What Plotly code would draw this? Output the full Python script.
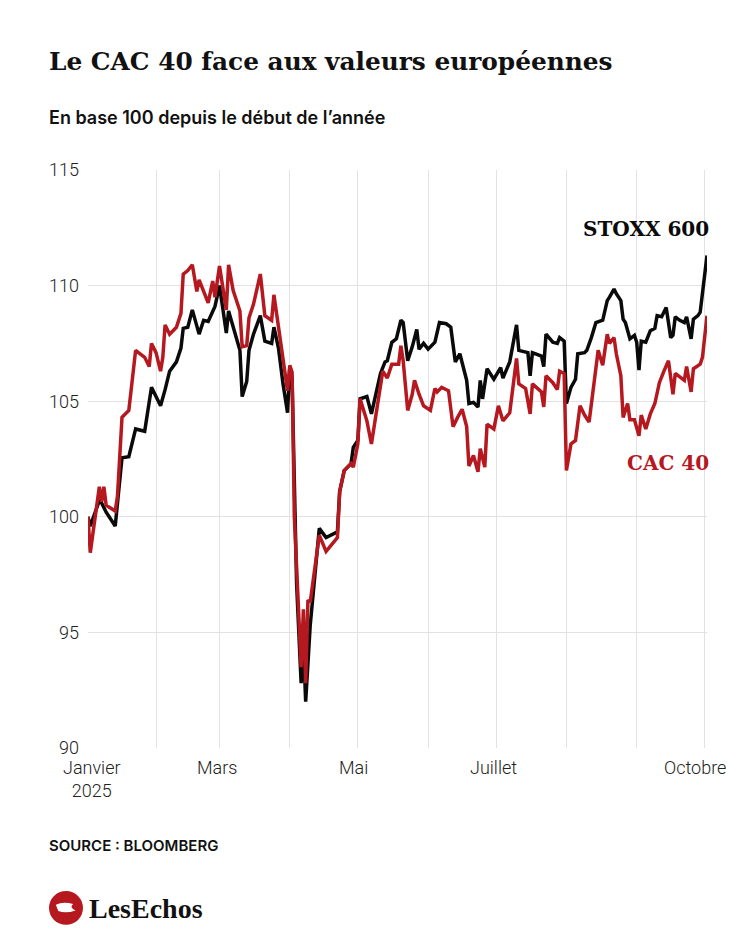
import plotly.graph_objects as go

# STOXX 600, base 100 au 2 janvier 2025
stoxx_dates = [
    "2025-01-02", "2025-01-03", "2025-01-07", "2025-01-08", "2025-01-10", "2025-01-14",
    "2025-01-17", "2025-01-20", "2025-01-23", "2025-01-27", "2025-01-30", "2025-02-03",
    "2025-02-05", "2025-02-07", "2025-02-10", "2025-02-12", "2025-02-13", "2025-02-15",
    "2025-02-17", "2025-02-19", "2025-02-20", "2025-02-22", "2025-02-24", "2025-02-27",
    "2025-03-01", "2025-03-04", "2025-03-05", "2025-03-10", "2025-03-11", "2025-03-13",
    "2025-03-14", "2025-03-16", "2025-03-19", "2025-03-21", "2025-03-24", "2025-03-25",
    "2025-03-27", "2025-03-29", "2025-03-31", "2025-04-01", "2025-04-02", "2025-04-04",
    "2025-04-06", "2025-04-07", "2025-04-08", "2025-04-10", "2025-04-14", "2025-04-17",
    "2025-04-22", "2025-04-23", "2025-04-25", "2025-04-28", "2025-04-29", "2025-05-01",
    "2025-05-02", "2025-05-05", "2025-05-07", "2025-05-11", "2025-05-13", "2025-05-14",
    "2025-05-16", "2025-05-18", "2025-05-20", "2025-05-21", "2025-05-23", "2025-05-25",
    "2025-05-27", "2025-05-28", "2025-05-30", "2025-06-01", "2025-06-04", "2025-06-06",
    "2025-06-09", "2025-06-11", "2025-06-13", "2025-06-15", "2025-06-18", "2025-06-19",
    "2025-06-21", "2025-06-23", "2025-06-24", "2025-06-25", "2025-06-27", "2025-06-30",
    "2025-07-03", "2025-07-04", "2025-07-07", "2025-07-10", "2025-07-11", "2025-07-15",
    "2025-07-16", "2025-07-17", "2025-07-21", "2025-07-22", "2025-07-23", "2025-07-26",
    "2025-07-28", "2025-07-29", "2025-07-31", "2025-08-01", "2025-08-03", "2025-08-05",
    "2025-08-06", "2025-08-09", "2025-08-10", "2025-08-12", "2025-08-14", "2025-08-17",
    "2025-08-19", "2025-08-20", "2025-08-22", "2025-08-23", "2025-08-25", "2025-08-26",
    "2025-08-27", "2025-08-29", "2025-08-31", "2025-09-01", "2025-09-02", "2025-09-03",
    "2025-09-05", "2025-09-07", "2025-09-09", "2025-09-10", "2025-09-12", "2025-09-14",
    "2025-09-16", "2025-09-17", "2025-09-18", "2025-09-20", "2025-09-22", "2025-09-23",
    "2025-09-25", "2025-09-26", "2025-09-28", "2025-09-29", "2025-09-30", "2025-10-02",
]
stoxx_values = [
    100.0, 99.6, 100.7, 100.6, 100.2, 99.6,
    102.55, 102.6, 103.8, 103.7, 105.6, 104.8,
    105.5, 106.3, 106.7, 107.3, 108.15, 108.2,
    108.95, 108.2, 107.9, 108.5, 108.45, 109.1,
    110.0, 107.95, 108.9, 107.2, 105.2, 105.85,
    107.2, 107.9, 108.7, 107.6, 107.5, 108.2,
    107.3, 105.75, 104.5, 106.5, 106.0, 97.1,
    92.8, 94.5, 92.0, 95.3, 99.5, 99.1,
    99.35, 101.1, 102.0, 102.3, 103.0, 103.3,
    105.1, 105.2, 104.45, 106.2, 106.7, 106.75,
    107.55, 107.7, 108.5, 108.4, 106.75, 107.35,
    108.1, 107.25, 107.5, 107.25, 107.55, 108.4,
    108.35, 108.2, 106.7, 107.05, 105.9, 104.9,
    104.95, 104.75, 105.9, 105.1, 106.4, 105.95,
    106.45, 106.0, 106.7, 108.3, 107.2, 107.1,
    106.1, 107.1, 106.95, 106.5, 107.9, 107.55,
    107.5, 107.75, 107.6, 104.9, 105.6, 105.95,
    107.05, 107.1, 107.2, 107.75, 108.4, 108.5,
    109.35, 109.5, 109.85, 109.65, 109.35, 108.55,
    108.4, 107.7, 107.85, 107.55, 106.35, 107.6,
    107.55, 108.05, 108.15, 108.7, 108.65, 109.05,
    107.75, 107.85, 108.65, 108.5, 108.4, 108.65,
    107.7, 108.55, 108.7, 108.85, 109.65, 111.3,
]

# CAC 40, base 100 au 2 janvier 2025
cac_dates = [
    "2025-01-02", "2025-01-03", "2025-01-07", "2025-01-08", "2025-01-09", "2025-01-10",
    "2025-01-14", "2025-01-15", "2025-01-17", "2025-01-20", "2025-01-23", "2025-01-27",
    "2025-01-29", "2025-01-30", "2025-02-01", "2025-02-03", "2025-02-04", "2025-02-05",
    "2025-02-07", "2025-02-10", "2025-02-12", "2025-02-13", "2025-02-15", "2025-02-17",
    "2025-02-19", "2025-02-20", "2025-02-22", "2025-02-24", "2025-02-26", "2025-02-27",
    "2025-03-01", "2025-03-04", "2025-03-05", "2025-03-07", "2025-03-10", "2025-03-11",
    "2025-03-13", "2025-03-14", "2025-03-16", "2025-03-19", "2025-03-21", "2025-03-24",
    "2025-03-25", "2025-03-27", "2025-03-29", "2025-03-31", "2025-04-01", "2025-04-02",
    "2025-04-03", "2025-04-06", "2025-04-07", "2025-04-08", "2025-04-09", "2025-04-10",
    "2025-04-14", "2025-04-17", "2025-04-22", "2025-04-23", "2025-04-25", "2025-04-28",
    "2025-04-29", "2025-05-01", "2025-05-02", "2025-05-05", "2025-05-07", "2025-05-10",
    "2025-05-12", "2025-05-14", "2025-05-16", "2025-05-19", "2025-05-20", "2025-05-21",
    "2025-05-23", "2025-05-25", "2025-05-26", "2025-05-28", "2025-05-30", "2025-06-02",
    "2025-06-04", "2025-06-05", "2025-06-07", "2025-06-10", "2025-06-12", "2025-06-14",
    "2025-06-16", "2025-06-18", "2025-06-19", "2025-06-21", "2025-06-23", "2025-06-24",
    "2025-06-26", "2025-06-27", "2025-06-30", "2025-07-02", "2025-07-04", "2025-07-07",
    "2025-07-10", "2025-07-11", "2025-07-14", "2025-07-16", "2025-07-17", "2025-07-21",
    "2025-07-22", "2025-07-23", "2025-07-26", "2025-07-28", "2025-07-29", "2025-07-31",
    "2025-08-01", "2025-08-03", "2025-08-05", "2025-08-07", "2025-08-09", "2025-08-11",
    "2025-08-13", "2025-08-15", "2025-08-17", "2025-08-19", "2025-08-20", "2025-08-22",
    "2025-08-23", "2025-08-25", "2025-08-26", "2025-08-28", "2025-08-29", "2025-08-31",
    "2025-09-02", "2025-09-03", "2025-09-05", "2025-09-07", "2025-09-09", "2025-09-11",
    "2025-09-13", "2025-09-15", "2025-09-17", "2025-09-18", "2025-09-20", "2025-09-22",
    "2025-09-23", "2025-09-25", "2025-09-26", "2025-09-29", "2025-09-30", "2025-10-02",
]
cac_values = [
    100.0, 98.45, 101.3, 100.65, 101.3, 100.5,
    100.25, 100.9, 104.3, 104.6, 107.2, 106.9,
    106.5, 107.5, 107.1, 106.3, 106.9, 108.3,
    107.9, 108.2, 108.8, 110.5, 110.65, 110.9,
    109.75, 110.25, 109.75, 109.25, 110.2, 109.5,
    110.85, 108.95, 110.9, 109.8, 108.9, 107.35,
    107.4, 108.6, 109.2, 110.5, 108.7, 108.5,
    109.6, 108.2, 106.9, 105.45, 106.55, 106.25,
    100.0, 93.5, 96.0, 92.8, 96.4, 96.3,
    99.2, 98.5, 99.1, 101.1, 102.0, 102.3,
    102.15, 103.15, 105.1, 104.15, 103.15, 105.0,
    106.3, 106.0, 106.6, 106.6, 107.4, 106.75,
    104.6, 105.3, 105.9, 105.3, 104.8, 104.6,
    105.55, 105.4, 105.6, 105.45, 103.9, 104.3,
    104.65, 103.9, 102.2, 102.65, 101.95, 102.95,
    102.15, 104.0, 103.8, 104.8, 104.15, 104.5,
    106.85, 105.75, 105.55, 104.45, 105.75, 105.4,
    104.75, 106.1, 105.8, 105.5, 106.3, 106.2,
    102.0, 103.15, 103.3, 104.8, 104.4, 104.1,
    105.7, 107.2, 106.55, 107.9, 107.5, 107.75,
    107.05, 106.1, 104.3, 104.9, 104.2, 104.2,
    103.5, 104.4, 103.8, 104.45, 104.9, 105.8,
    106.3, 106.75, 105.3, 106.2, 106.05, 105.9,
    106.5, 105.4, 106.4, 106.6, 106.9, 108.7,
]

# grille mensuelle ; seuls certains mois sont nommés
month_ticks = ["2025-01-02", "2025-02-01", "2025-03-01", "2025-04-01", "2025-05-01",
               "2025-06-01", "2025-07-01", "2025-08-01", "2025-09-01", "2025-10-01"]
month_labels = ["Janvier<br>2025", "", "Mars", "", "Mai", "", "Juillet", "", "", "Octobre"]
y_ticks = [90, 95, 100, 105, 110, 115]

BLACK = "#0a0a0a"
RED = "#b5191f"
SERIF = "DejaVu Serif, Liberation Serif, serif"
LOGO_SERIF = "Liberation Serif, serif"
SANS = "Inter, Roboto, sans-serif"
LIGHT = "Roboto, Inter, sans-serif"


def note(text, x, y, font, xanchor="left", xref="paper", xshift=0, yanchor="middle"):
    return dict(text=text, x=x, y=y, xref=xref, yref="paper", xshift=xshift,
                xanchor=xanchor, yanchor=yanchor, showarrow=False, font=font)


fig = go.Figure()
fig.add_trace(go.Scatter(x=stoxx_dates, y=stoxx_values, mode="lines", name="STOXX 600",
                         line=dict(color=BLACK, width=3.5), hoverinfo="x+y"))
fig.add_trace(go.Scatter(x=cac_dates, y=cac_values, mode="lines", name="CAC 40",
                         line=dict(color=RED, width=3.5), hoverinfo="x+y"))

tick_font = dict(family=LIGHT, size=18, color="#222", weight=300)

annotations = [
    note("Le CAC 40 face aux valeurs européennes", -0.066, 1.187,
         dict(family=SERIF, size=24.8, color="#111", weight="bold")),
    note("En base 100 depuis le début de l’année", -0.066, 1.090,
         dict(family=SANS, size=18, color="#111", weight=600)),
    note("STOXX 600", 1.0065, 0.898,
         dict(family=SERIF, size=20, color=BLACK, weight="bold"), "right"),
    note("CAC 40", 1.0065, 0.493,
         dict(family=SERIF, size=20, color=RED, weight="bold"), "right"),
    note("SOURCE : BLOOMBERG", -0.066, -0.168,
         dict(family=SANS, size=15, color="#111", weight=600)),
    note("LesEchos", -0.002, -0.277,
         dict(family=LOGO_SERIF, size=28, color="#111", weight="bold")),
]

# libellés des mois, placés sous la grille (léger décalage comme l'original)
label_shift = {"Janvier<br>2025": 4, "Mars": -3, "Mai": -4, "Juillet": -3, "Octobre": -10}
for tick, label in zip(month_ticks, month_labels):
    if label:
        annotations.append(note(label, tick, -0.012, tick_font, "center", "x",
                                label_shift[label], "top"))

shapes = [
    # logo : disque rouge
    dict(type="circle", xref="paper", yref="paper", x0=-0.063, x1=-0.0081,
         y0=-0.306, y1=-0.2474, fillcolor=RED, line=dict(width=0)),
    dict(type="path", xref="paper", yref="paper",
         path="M -0.052,-0.271 Q -0.040,-0.265 -0.024,-0.270 Q -0.031,-0.276 -0.020,-0.281 "
              "Q -0.036,-0.287 -0.048,-0.282 Z",
         fillcolor="white", line=dict(width=0)),
]

# la page ajoute 8 px de marge autour de la figure : on la réduit d'autant
fig.update_layout(
    width=742, height=930,
    margin=dict(l=80, r=43, t=162, b=190),
    paper_bgcolor="white", plot_bgcolor="white",
    showlegend=False,
    annotations=annotations,
    shapes=shapes,
    xaxis=dict(
        type="date", range=["2025-01-02", "2025-10-02"],
        tickmode="array", tickvals=month_ticks, ticktext=[""] * len(month_ticks),
        showgrid=True, gridcolor="#e2e2e2", gridwidth=1,
        showline=False, zeroline=False, ticks="",
    ),
    yaxis=dict(
        range=[90, 115], tickmode="array", tickvals=y_ticks,
        showgrid=True, gridcolor="#e2e2e2", gridwidth=1,
        showline=False, zeroline=False, ticks="", ticklabelstandoff=8,
        tickfont=tick_font,
    ),
)

fig.write_html("out.html")
